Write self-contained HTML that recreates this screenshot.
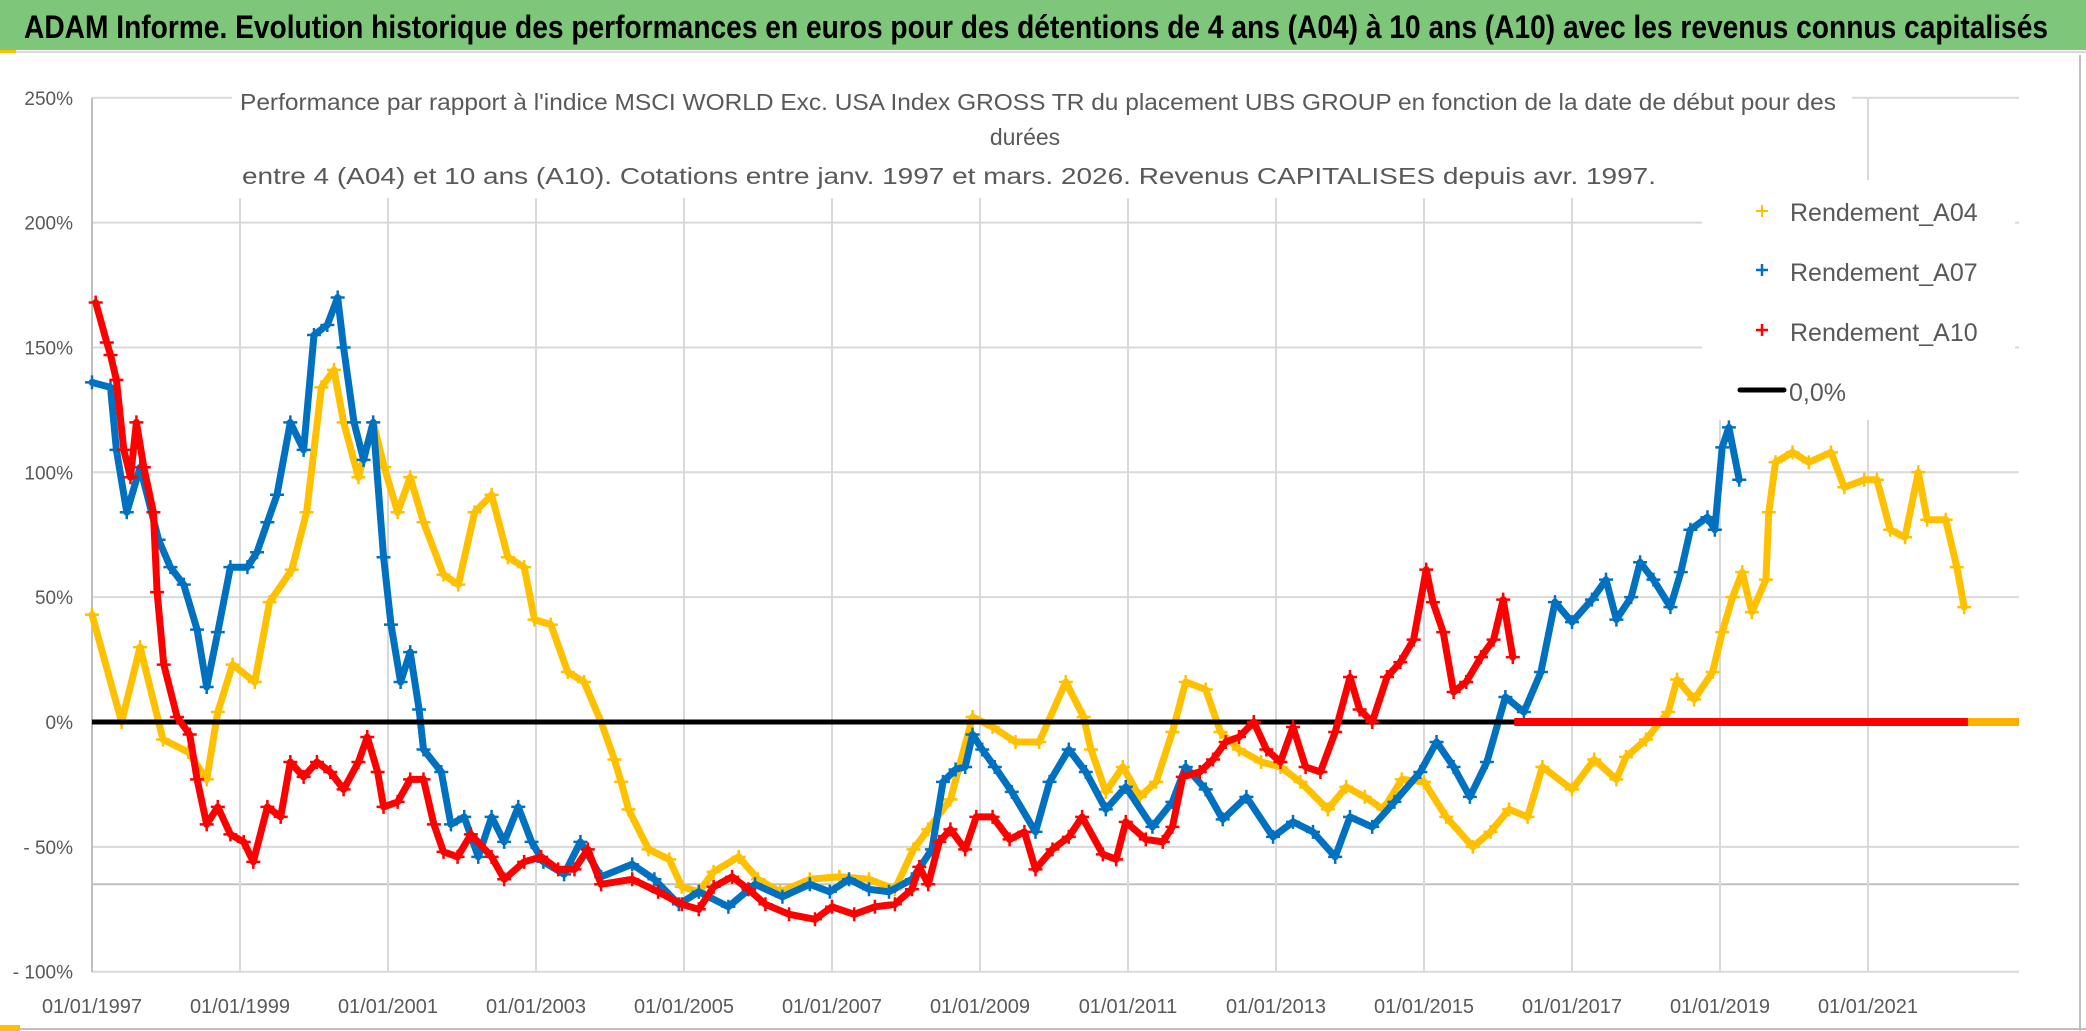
<!DOCTYPE html>
<html><head><meta charset="utf-8"><style>
html,body{margin:0;padding:0;background:#fff;}
svg{display:block;font-family:"Liberation Sans",Arial,sans-serif;}
</style></head><body>
<svg id="chart" width="2086" height="1031" viewBox="0 0 2086 1031" xmlns="http://www.w3.org/2000/svg">
<rect x="0" y="0" width="2086" height="1031" fill="#fff"/>
<rect x="0" y="0" width="2086" height="50" fill="#7dc67a"/>
<rect x="0" y="50" width="16" height="3" fill="#ffc000"/>
<line x1="16" y1="52" x2="2086" y2="52" stroke="#d9d9d9" stroke-width="2"/>
<text x="24" y="38" font-size="32" font-weight="bold" fill="#000" textLength="2024" lengthAdjust="spacingAndGlyphs">ADAM Informe. Evolution historique des performances en euros pour des détentions de 4 ans (A04) à 10 ans (A10) avec les revenus connus capitalisés</text>
<g id="grid"></g>
<g id="yaxis"></g>
<g id="xaxis"></g>
<rect x="232" y="78" width="1620" height="120" fill="#fff"/>
<rect x="1702" y="180" width="313" height="240" fill="#fff"/>
<text x="240" y="110" font-size="23" fill="#595959" textLength="1596" lengthAdjust="spacingAndGlyphs">Performance par rapport à l'indice MSCI WORLD Exc. USA Index GROSS TR  du placement UBS GROUP en fonction de la date de début pour des</text>
<text x="1025" y="145" font-size="23" fill="#595959" text-anchor="middle">durées</text>
<text x="242" y="184" font-size="23" fill="#595959" textLength="1414" lengthAdjust="spacingAndGlyphs">entre 4 (A04) et 10 ans (A10). Cotations entre janv. 1997 et mars. 2026. Revenus CAPITALISES depuis avr. 1997.</text>
<g id="series"></g>
<g>
 <g>
  <path d="M1756 211h12M1762 205v12" stroke="#ffc000" stroke-width="2"/>
  <text x="1790" y="221" font-size="25" fill="#595959">Rendement_A04</text></g>
 <g>
  <path d="M1756 270h12M1762 264v12" stroke="#0070c0" stroke-width="2.5"/>
  <text x="1790" y="281" font-size="25" fill="#595959">Rendement_A07</text></g>
 <g>
  <path d="M1756 330h12M1762 324v12" stroke="#ff0000" stroke-width="2.5"/>
  <text x="1790" y="341" font-size="25" fill="#595959">Rendement_A10</text></g>
 <g>
  <line x1="1740" y1="390" x2="1784" y2="390" stroke="#000" stroke-width="5" stroke-linecap="round"/>
  <text x="1789" y="401" font-size="25" fill="#595959">0,0%</text></g>
</g>
<line x1="2080" y1="55" x2="2080" y2="1031" stroke="#bfbfbf" stroke-width="2"/>
<line x1="0" y1="1029" x2="2086" y2="1029" stroke="#bfbfbf" stroke-width="2"/>
<rect x="0" y="1025" width="20" height="6" fill="#ffc000"/>
</svg>
<script>
const yTicks=[250,200,150,100,50,0,-50,-100];
const yTickLabels=["250%","200%","150%","100%","50%","0%","- 50%","- 100%"];
const xTicks=[1997,1999,2001,2003,2005,2007,2009,2011,2013,2015,2017,2019,2021];
const xTickLabels=["01/01/1997","01/01/1999","01/01/2001","01/01/2003","01/01/2005","01/01/2007","01/01/2009","01/01/2011","01/01/2013","01/01/2015","01/01/2017","01/01/2019","01/01/2021"];
const refLine=-65;

const a04Years=[1997.0,1997.4,1997.65,1997.96,1998.3,1998.55,1998.7,1998.9,1999.2,1999.4,
1999.7,1999.9,2000.1,2000.27,2000.4,2000.6,2000.8,2000.95,2001.13,2001.3,
2001.48,2001.75,2001.95,2002.17,2002.4,2002.62,2002.84,2002.98,2003.2,2003.43,
2003.65,2003.88,2004.06,2004.15,2004.25,2004.52,2004.8,2004.97,2005.2,2005.4,
2005.74,2006.0,2006.3,2006.7,2007.1,2007.5,2007.85,2008.1,2008.3,2008.6,
2008.9,2009.17,2009.48,2009.8,2010.16,2010.4,2010.5,2010.7,2010.93,2011.16,
2011.38,2011.6,2011.78,2012.05,2012.25,2012.5,2012.8,2013.06,2013.33,2013.7,
2013.95,2014.2,2014.45,2014.7,2015.0,2015.3,2015.66,2015.9,2016.15,2016.4,
2016.6,2017.0,2017.3,2017.6,2017.73,2018.0,2018.3,2018.42,2018.65,2018.9,
2019.03,2019.17,2019.3,2019.43,2019.62,2019.66,2019.75,2019.98,2020.2,2020.5,
2020.68,2020.95,2021.12,2021.3,2021.5,2021.68,2021.8,2022.05,2022.2,2022.3];
const a04Values=[43,0,30,-7,-12,-23,4,23,16,48,
61,84,134,141,120,98,120,102,84,98,
80,59,55,84,91,66,62,41,39,20,
16,0,-15,-24,-35,-51,-55,-66,-68,-60,
-54,-63,-68,-63,-62,-63,-67,-51,-43,-31,
2,-2,-8,-8,16,2,-11,-28,-18,-30,
-24,-4,16,13,-4,-11,-16,-18,-24,-35,
-26,-30,-35,-23,-24,-38,-50,-44,-35,-38,
-18,-27,-15,-23,-14,-7,4,17,9,20,
36,50,60,44,57,84,104,108,104,108,
94,97,97,77,74,100,81,81,62,46];
const a04ZeroYears=[2022.35,2023.04];
const a04ZeroValues=[0,0];

const a07Years=[1997.0,1997.25,1997.33,1997.47,1997.65,1997.9,1998.06,1998.24,1998.42,1998.55,
1998.7,1998.87,1999.1,1999.23,1999.37,1999.5,1999.68,1999.86,2000.0,2000.18,
2000.32,2000.4,2000.54,2000.67,2000.8,2000.94,2001.04,2001.17,2001.3,2001.42,
2001.48,2001.72,2001.85,2002.03,2002.22,2002.4,2002.57,2002.76,2002.94,2003.1,
2003.38,2003.6,2003.88,2004.3,2004.6,2004.93,2005.2,2005.6,2005.96,2006.33,
2006.7,2006.97,2007.23,2007.5,2007.77,2008.08,2008.35,2008.5,2008.67,2008.8,
2008.9,2009.03,2009.2,2009.43,2009.75,2009.94,2010.2,2010.43,2010.7,2010.97,
2011.33,2011.6,2011.78,2012.05,2012.28,2012.6,2012.96,2013.23,2013.5,2013.8,
2014.0,2014.3,2014.6,2014.95,2015.17,2015.4,2015.62,2015.85,2016.1,2016.35,
2016.58,2016.77,2017.0,2017.27,2017.46,2017.6,2017.8,2017.92,2018.1,2018.33,
2018.47,2018.6,2018.83,2018.93,2019.03,2019.12,2019.26];
const a07Values=[136,134,109,84,102,73,62,55,37,14,
36,62,62,68,80,91,120,109,155,159,
170,150,120,105,120,66,39,16,28,5,
-11,-20,-41,-38,-54,-38,-48,-34,-48,-56,
-61,-48,-62,-57,-63,-73,-68,-74,-65,-70,
-65,-68,-63,-67,-68,-63,-51,-24,-19,-18,
-5,-11,-18,-28,-44,-24,-11,-20,-35,-26,
-42,-32,-18,-27,-39,-30,-46,-40,-44,-54,
-38,-42,-32,-20,-8,-18,-30,-16,10,4,
20,48,40,49,57,41,50,64,57,46,
60,77,82,77,110,118,97];

const a10Years=[1997.05,1997.2,1997.25,1997.33,1997.43,1997.52,1997.6,1997.7,1997.83,1997.88,
1997.97,1998.15,1998.32,1998.42,1998.55,1998.7,1998.87,1999.05,1999.18,1999.37,
1999.55,1999.68,1999.86,2000.04,2000.22,2000.4,2000.6,2000.72,2000.86,2000.94,
2001.13,2001.3,2001.48,2001.62,2001.75,2001.94,2002.12,2002.4,2002.57,2002.84,
2003.07,2003.3,2003.52,2003.7,2003.88,2004.3,2004.65,2004.97,2005.2,2005.4,
2005.65,2005.87,2006.1,2006.42,2006.77,2007.0,2007.3,2007.58,2007.85,2008.08,
2008.18,2008.3,2008.45,2008.6,2008.8,2008.95,2009.17,2009.4,2009.6,2009.75,
2009.98,2010.2,2010.38,2010.66,2010.84,2010.97,2011.24,2011.47,2011.6,2011.74,
2011.97,2012.15,2012.32,2012.5,2012.7,2012.87,2013.06,2013.23,2013.4,2013.6,
2013.8,2014.0,2014.13,2014.3,2014.5,2014.68,2014.86,2015.03,2015.12,2015.26,
2015.4,2015.57,2015.77,2015.94,2016.07,2016.2];
const a10Values=[168,152,147,137,109,98,120,102,84,52,
23,2,-5,-23,-41,-34,-45,-48,-56,-34,
-38,-16,-22,-16,-20,-27,-16,-6,-20,-34,
-32,-23,-23,-41,-52,-54,-45,-54,-63,-56,
-54,-59,-59,-51,-65,-63,-68,-73,-75,-66,
-62,-67,-73,-77,-79,-74,-77,-74,-73,-67,
-58,-65,-48,-43,-51,-38,-38,-47,-44,-59,
-51,-46,-38,-53,-55,-40,-47,-48,-42,-22,
-20,-15,-8,-6,0,-11,-16,-2,-18,-20,
-4,18,5,0,18,24,33,61,48,36,
12,16,26,33,49,26];
const a10ZeroYears=[2016.22,2023.04];
const a10ZeroValues=[0,0];

const NS="http://www.w3.org/2000/svg";
const X0=92,PXY=74.0,Y0=722,PXP=2.497,XR=2019,YT=98,YB=972;
function xs(yr){return X0+(yr-1997)*PXY;}
function ys(v){return Y0-v*PXP;}
function mk(tag,attrs,parent){const e=document.createElementNS(NS,tag);for(const k in attrs)e.setAttribute(k,attrs[k]);parent.appendChild(e);return e;}

const grid=document.getElementById('grid');
yTicks.forEach((t,i)=>{
  const l=mk('line',{x1:X0,x2:XR,y1:ys(t),y2:ys(t),stroke:'#d9d9d9','stroke-width':2},grid);
  
  
});
const rl=mk('line',{x1:X0,x2:XR,y1:ys(refLine),y2:ys(refLine),stroke:'#bfbfbf','stroke-width':2},grid);


xTicks.forEach((t,i)=>{
  const l=mk('line',{x1:xs(t),x2:xs(t),y1:YT,y2:YB,stroke:'#d9d9d9','stroke-width':2},grid);
  
  
});
const ax=mk('line',{x1:X0,x2:X0,y1:YT,y2:YB,stroke:'#bfbfbf','stroke-width':2},grid);



const ya=document.getElementById('yaxis');
yTicks.forEach((t,i)=>{
  const tx=mk('text',{x:73,y:ys(t)+7,'font-size':19,fill:'#595959','text-anchor':'end'},ya);
  tx.textContent=yTickLabels[i];
  
  
});
const xa=document.getElementById('xaxis');
xTicks.forEach((t,i)=>{
  const tx=mk('text',{x:xs(t),y:1013,'font-size':20,fill:'#595959','text-anchor':'middle'},xa);
  tx.textContent=xTickLabels[i];
  
  
});

const sl=document.getElementById('series');
function drawSeries(name,years,vals,color,w){
  const g=mk('g',{},sl);
  
  
  const pts=years.map((y,i)=>xs(y).toFixed(1)+','+ys(vals[i]).toFixed(1)).join(' ');
  const pl=mk('polyline',{points:pts,fill:'none',stroke:color,'stroke-width':w,'stroke-linejoin':'round','stroke-linecap':'round'},g);
  
  
  years.forEach((y,i)=>{
    const cx=xs(y),cy=ys(vals[i]);
    const m=mk('path',{d:`M${cx-7} ${cy}h14M${cx} ${cy-7}v14`,stroke:color,'stroke-width':2.5},g);
    
    
  });
}
function drawFlat(name,years,vals,color){
  const l=mk('line',{x1:xs(years[0]),x2:xs(years[1]),y1:ys(vals[0]),y2:ys(vals[1]),stroke:color,'stroke-width':8},sl);
  
  
}
drawSeries('series-a04',a04Years,a04Values,'#ffc000',7);
drawSeries('series-a07',a07Years,a07Values,'#0070c0',7);
const zl=mk('line',{x1:X0,x2:XR,y1:ys(0),y2:ys(0),stroke:'#000','stroke-width':5},sl);


drawSeries('series-a10',a10Years,a10Values,'#ff0000',7);
drawFlat('series-a10-zero-tail',a10ZeroYears,a10ZeroValues,'#ff0000');
drawFlat('series-a04-zero-tail',a04ZeroYears,a04ZeroValues,'#ffb000');
</script>
</body></html>
